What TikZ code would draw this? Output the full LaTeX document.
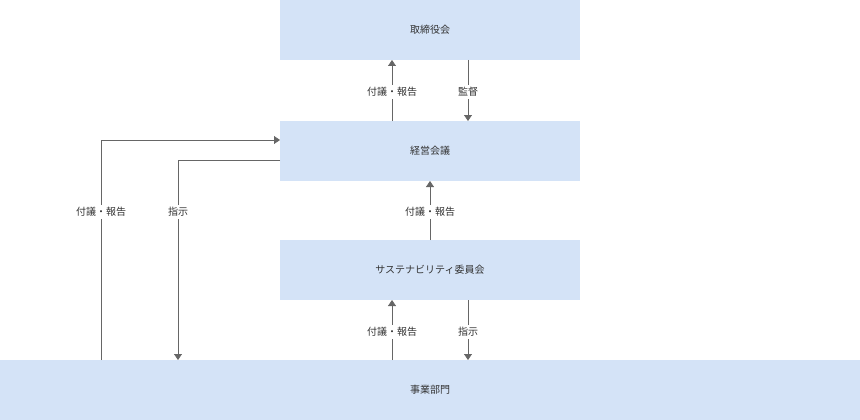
\documentclass[tikz,border=0pt]{standalone}
\usepackage{fontspec}
\setmainfont{Noto Sans CJK JP}
\usetikzlibrary{arrows.meta}
\definecolor{boxblue}{HTML}{D4E3F7}
\definecolor{txt}{HTML}{333333}
\definecolor{arr}{HTML}{666666}
\tikzset{
  org/.style={fill=boxblue, text=txt, font=\fontsize{10}{12}\selectfont, inner sep=0pt},
  lbl/.style={fill=white, text=txt, font=\fontsize{10}{12}\selectfont, inner sep=2pt},
  flow/.style={draw=arr, line width=0.8pt, -{Triangle[width=8pt,length=6pt]}}
}
\begin{document}
\begin{tikzpicture}[x=1pt, y=-1pt]
\useasboundingbox (0,0) rectangle (860,420);
% Boxes
    \node[org, minimum width=300pt, minimum height=60pt] (board) at (430,30) {取締役会};
    \node[org, minimum width=300pt, minimum height=60pt] (mgmt) at (430,151) {経営会議};
    \node[org, minimum width=300pt, minimum height=60pt] (sust) at (430,270) {サステナビリティ委員会};
    \node[org, minimum width=860pt, minimum height=60pt] (biz) at (430,390) {事業部門};
% Board - management
    \draw[flow] (392,121) -- (392,60);
    \draw[flow] (468,60) -- (468,121);
    \node[lbl] (r1) at (392,92) {付議・報告};
    \node[lbl] (s1) at (468,92) {監督};
% Management - sustainability
    \draw[flow] (430,240) -- (430,181);
    \node[lbl] (r2) at (430,212) {付議・報告};
% Sustainability - business
    \draw[flow] (392,360) -- (392,300);
    \draw[flow] (468,300) -- (468,360);
    \node[lbl] (r3) at (392,332) {付議・報告};
    \node[lbl] (i3) at (468,332) {指示};
% Business - management
    \draw[flow] (101,360) -- (101,140) -- (280,140);
    \draw[flow] (280,160) -- (178,160) -- (178,360);
    \node[lbl] (r4) at (101,212) {付議・報告};
    \node[lbl] (i4) at (178,212) {指示};
\end{tikzpicture}
\end{document}
